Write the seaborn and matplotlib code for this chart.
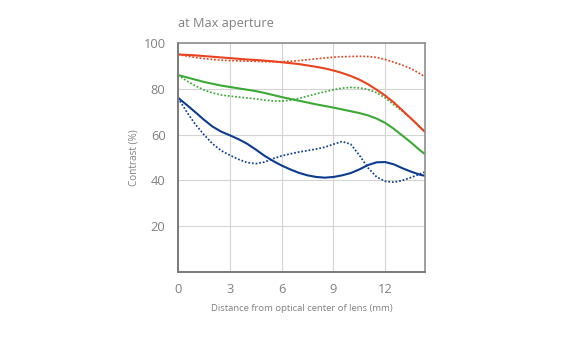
import matplotlib
matplotlib.use("Agg")
import matplotlib.pyplot as plt
import seaborn as sns
import pandas as pd

# Distance from optical center (mm)
x_mm = [0, 0.5, 1, 1.5, 2, 2.5, 3, 3.5, 4, 4.5, 5, 5.5, 6, 6.5, 7, 7.5, 8, 8.5,
        9, 9.5, 10, 10.5, 11, 11.5, 12, 12.5, 13, 13.5, 14, 14.3]

red_solid = [95.0, 94.8, 94.6, 94.3, 94.0, 93.7, 93.4, 93.1, 92.8, 92.6, 92.3, 92.0,
             91.6, 91.2, 90.8, 90.2, 89.6, 88.9, 88.0, 86.9, 85.6, 84.0, 82.0, 79.6,
             77.0, 74.0, 70.5, 67.0, 63.3, 61.2]
red_dotted = [95.0, 94.3, 93.7, 93.2, 92.8, 92.5, 92.3, 92.2, 92.1, 92.0, 91.9, 91.8,
              91.8, 92.0, 92.3, 92.7, 93.1, 93.5, 93.8, 94.0, 94.1, 94.2, 94.1, 93.7,
              92.8, 91.6, 90.3, 88.8, 86.6, 85.2]
green_solid = [86.0, 85.0, 84.0, 83.0, 82.2, 81.4, 80.8, 80.2, 79.6, 79.0, 78.2, 77.3,
               76.4, 75.6, 74.8, 74.0, 73.2, 72.5, 71.8, 71.0, 70.2, 69.4, 68.4, 67.0,
               65.1, 62.5, 59.5, 56.5, 53.2, 51.5]
green_dotted = [86.0, 83.5, 81.3, 79.5, 78.2, 77.3, 76.8, 76.4, 76.0, 75.6, 75.1, 74.7,
                74.6, 75.0, 75.8, 76.8, 77.8, 78.7, 79.6, 80.3, 80.6, 80.4, 79.7, 78.3,
                76.0, 73.0, 70.2, 67.0, 63.3, 61.2]
blue_solid = [76.1, 73.0, 69.8, 66.5, 63.5, 61.3, 59.7, 58.0, 56.0, 53.5, 50.8, 48.5,
              46.5, 44.8, 43.3, 42.2, 41.5, 41.2, 41.5, 42.2, 43.2, 44.8, 46.7, 47.9,
              48.0, 47.0, 45.3, 43.8, 42.5, 42.0]
blue_dotted = [76.0, 70.0, 64.5, 60.0, 56.0, 53.0, 51.0, 49.2, 47.8, 47.3, 48.0, 49.5,
               50.7, 51.6, 52.4, 53.0, 53.7, 54.5, 55.8, 57.0, 55.8, 51.0, 45.5, 41.5,
               39.6, 39.2, 40.0, 41.3, 42.8, 43.7]

x_ticks = [0, 3, 6, 9, 12]
y_ticks = [20, 40, 60, 80, 100]

RED = "#e8421e"
GREEN = "#3aa935"
BLUE = "#0b3c8f"
TXT = "#808080"

sns.set_theme(style="white")
plt.rcParams["font.family"] = ["Open Sans", "DejaVu Sans"]

fig = plt.figure(figsize=(5.77, 3.48), dpi=100)
ax = fig.add_axes([178 / 577, 1 - 272 / 348, 247 / 577, 229 / 348])

DOT = (0, (1, 1.1))
series = [
    (green_dotted, GREEN, DOT, 1.25),
    (red_dotted, RED, DOT, 1.25),
    (blue_dotted, BLUE, DOT, 1.25),
    (green_solid, GREEN, "-", 1.5),
    (blue_solid, BLUE, "-", 1.5),
    (red_solid, RED, "-", 1.5),
]
for vals, col, ls, lw in series:
    df = pd.DataFrame({"x": x_mm, "y": vals})
    sns.lineplot(data=df, x="x", y="y", ax=ax, color=col, linestyle=ls,
                 linewidth=lw, sort=False, estimator=None)

ax.set_xlim(0, 14.3)
ax.set_ylim(0, 100)
ax.set_xticks(x_ticks)
ax.set_yticks(y_ticks)
ax.set_xticklabels([str(v) for v in x_ticks])
ax.set_yticklabels([str(v) for v in y_ticks])
ax.grid(True, color="#d4d4d4", linewidth=0.8)
ax.set_axisbelow(True)
ax.tick_params(axis="both", length=0, labelsize=9.3, labelcolor=TXT)
ax.tick_params(axis="x", pad=8)
ax.tick_params(axis="y", pad=9)
for s in ["left", "bottom"]:
    ax.spines[s].set_color("#7a7a7a")
    ax.spines[s].set_linewidth(1.4)
for s in ["top", "right"]:
    ax.spines[s].set_color("#8f8f8f")
    ax.spines[s].set_linewidth(1.2)

ax.set_xlabel("Distance from optical center of lens (mm)", fontsize=6.8,
              color=TXT, labelpad=6)
ax.set_ylabel("Contrast (%)", fontsize=7.2, color=TXT)
ax.yaxis.set_label_coords((140 - 178) / 247, 0.5)

fig.text(178 / 577, 1 - 23 / 348, "at Max aperture", fontsize=9.2, color=TXT,
         ha="left", va="center")

fig.savefig("out.png", dpi=100)
